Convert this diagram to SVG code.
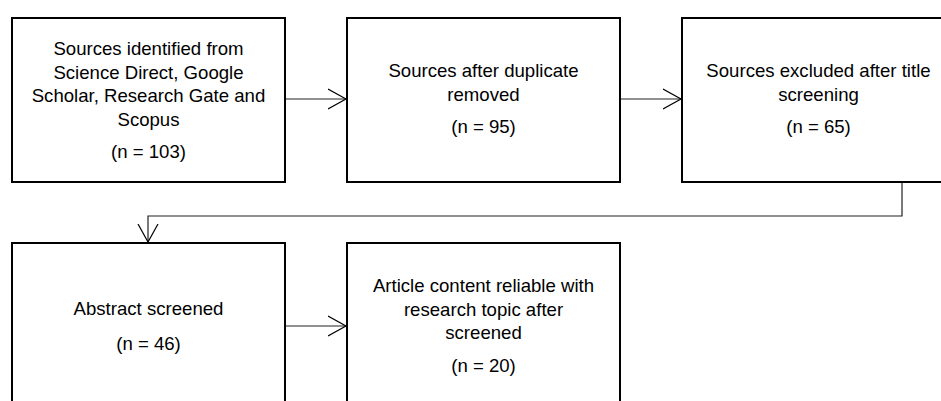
<svg xmlns="http://www.w3.org/2000/svg" width="941" height="401" viewBox="0 0 941 401">
<defs>
<style>
.box{fill:#fff;stroke:#000;stroke-width:2}
.t{font-family:"Liberation Sans",Arial,sans-serif;font-size:18.6px;fill:#000;text-anchor:middle}
.c{fill:none;stroke:#222;stroke-width:1.2}
</style>
<marker id="ah" markerWidth="24" markerHeight="24" viewBox="0 0 24 24" refX="18" refY="12" orient="auto" markerUnits="userSpaceOnUse">
<path d="M0,2 L18,12 L0,22" fill="none" stroke="#000" stroke-width="1.2"/>
</marker>
</defs>
<rect width="941" height="401" fill="#fff"/>
<g id="connectors">
<line class="c" x1="285" y1="99" x2="346" y2="99" marker-end="url(#ah)"/>
<line class="c" x1="620" y1="99" x2="681" y2="99" marker-end="url(#ah)"/>
<polyline class="c" points="902,182 902,216 148,216 148,242" marker-end="url(#ah)"/>
<line class="c" x1="285" y1="326" x2="346" y2="326" marker-end="url(#ah)"/>
</g>
<g id="n1">
<rect class="box" x="12" y="18" width="273" height="164"/>
<text class="t" x="148.5" y="55">Sources identified from</text>
<text class="t" x="148.5" y="78.5">Science Direct, Google</text>
<text class="t" x="148.5" y="102">Scholar, Research Gate and</text>
<text class="t" x="148.5" y="125.5">Scopus</text>
<text class="t" x="148.5" y="158">(n = 103)</text>
</g>
<g id="n2">
<rect class="box" x="347" y="18" width="273" height="164"/>
<text class="t" x="483.5" y="77">Sources after duplicate</text>
<text class="t" x="483.5" y="100.5">removed</text>
<text class="t" x="483.5" y="133">(n = 95)</text>
</g>
<g id="n3">
<rect class="box" x="682" y="18" width="273" height="164"/>
<text class="t" x="818.5" y="77">Sources excluded after title</text>
<text class="t" x="818.5" y="100.5">screening</text>
<text class="t" x="818.5" y="133">(n = 65)</text>
</g>
<g id="n4">
<rect class="box" x="12" y="243" width="273" height="170"/>
<text class="t" x="148.5" y="315">Abstract screened</text>
<text class="t" x="148.5" y="350">(n = 46)</text>
</g>
<g id="n5">
<rect class="box" x="347" y="243" width="273" height="170"/>
<text class="t" x="483.5" y="292">Article content reliable with</text>
<text class="t" x="483.5" y="315.5">research topic after</text>
<text class="t" x="483.5" y="339">screened</text>
<text class="t" x="483.5" y="372">(n = 20)</text>
</g>
</svg>
